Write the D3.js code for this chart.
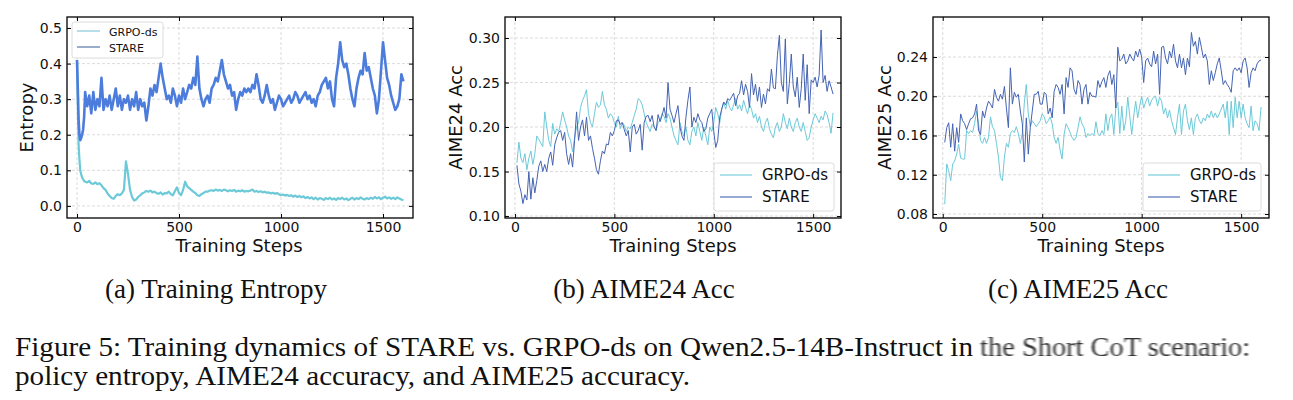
<!DOCTYPE html>
<html><head><meta charset="utf-8">
<script src="https://cdn.jsdelivr.net/npm/d3@7"></script>
<style>body{margin:0;background:#fff} svg{display:block}</style>
</head><body><svg id="c" width="1293" height="400"></svg>
<script>
// ---------------- DATA ----------------
const seriesNames = ["GRPO-ds", "STARE"];
const xTickValues = [0, 500, 1000, 1500];
const entropyTicks = [0.0, 0.1, 0.2, 0.3, 0.4, 0.5];
const aime24Ticks = [0.10, 0.15, 0.20, 0.25, 0.30];
const aime25Ticks = [0.08, 0.12, 0.16, 0.20, 0.24];

const entropySteps = [0, 4, 8, 12, 16, 20, 25, 30, 35].concat(d3.range(40, 1601, 10));
const evalSteps = d3.range(10, 1601, 10);

const entropyGRPO = [
  0.41, 0.28, 0.17, 0.13, 0.10, 0.09, 0.08, 0.075, 0.07,
  0.068, 0.066, 0.070, 0.063, 0.062, 0.066, 0.061, 0.064, 0.058, 0.050,
  0.045, 0.035, 0.028, 0.022, 0.020, 0.028, 0.033, 0.030, 0.035, 0.045,
  0.125, 0.090, 0.045, 0.025, 0.015, 0.018, 0.025, 0.030, 0.035, 0.038,
  0.042, 0.040, 0.043, 0.038, 0.040, 0.036, 0.034, 0.038, 0.032, 0.036,
  0.035, 0.040, 0.033, 0.030, 0.042, 0.052, 0.036, 0.030, 0.045, 0.068,
  0.055, 0.050, 0.045, 0.040, 0.036, 0.030, 0.028, 0.033, 0.036, 0.040,
  0.040, 0.043, 0.044, 0.042, 0.046, 0.043, 0.045, 0.042, 0.046, 0.044,
  0.041, 0.044, 0.042, 0.045, 0.040, 0.043, 0.041, 0.044, 0.040, 0.042,
  0.041, 0.043, 0.046, 0.040, 0.042, 0.039, 0.041, 0.038, 0.040, 0.037,
  0.038, 0.035, 0.037, 0.034, 0.036, 0.033, 0.030, 0.032, 0.029, 0.031,
  0.028, 0.030, 0.026, 0.029, 0.025, 0.028, 0.024, 0.027, 0.022, 0.025,
  0.021, 0.024, 0.019, 0.023, 0.018, 0.022, 0.020, 0.017, 0.022, 0.019,
  0.023, 0.018, 0.021, 0.017, 0.022, 0.019, 0.023, 0.018, 0.021, 0.016,
  0.020, 0.023, 0.018, 0.022, 0.019, 0.024, 0.020, 0.018, 0.022, 0.019,
  0.023, 0.020, 0.025, 0.021, 0.024, 0.019, 0.023, 0.026, 0.021, 0.024,
  0.020, 0.023, 0.019, 0.024, 0.021, 0.018, 0.016
];
const entropySTARE = [
  0.41, 0.33, 0.24, 0.20, 0.185, 0.19, 0.20, 0.215, 0.25,
  0.32, 0.28, 0.31, 0.26, 0.32, 0.27, 0.30, 0.28, 0.36, 0.27,
  0.30, 0.28, 0.31, 0.27, 0.30, 0.33, 0.28, 0.31, 0.27, 0.30,
  0.29, 0.31, 0.27, 0.30, 0.28, 0.32, 0.27, 0.30, 0.28, 0.29,
  0.24, 0.28, 0.33, 0.31, 0.34, 0.32, 0.36, 0.40, 0.36, 0.33,
  0.30, 0.31, 0.29, 0.33, 0.31, 0.28, 0.31, 0.29, 0.33, 0.30,
  0.32, 0.34, 0.33, 0.36, 0.34, 0.42, 0.33, 0.30, 0.28, 0.30,
  0.31, 0.29, 0.33, 0.34, 0.36, 0.35, 0.38, 0.41, 0.37, 0.35,
  0.33, 0.34, 0.31, 0.32, 0.27, 0.30, 0.32, 0.31, 0.33, 0.32,
  0.33, 0.32, 0.34, 0.33, 0.37, 0.34, 0.30, 0.29, 0.31, 0.34,
  0.31, 0.29, 0.30, 0.27, 0.29, 0.31, 0.30, 0.28, 0.29, 0.30,
  0.31, 0.29, 0.30, 0.32, 0.31, 0.29, 0.30, 0.31, 0.32, 0.30,
  0.31, 0.29, 0.30, 0.28, 0.31, 0.32, 0.34, 0.35, 0.36, 0.33,
  0.35, 0.30, 0.28, 0.36, 0.40, 0.46, 0.41, 0.39, 0.40, 0.37,
  0.33, 0.30, 0.28, 0.33, 0.36, 0.38, 0.37, 0.43, 0.38, 0.39,
  0.36, 0.33, 0.31, 0.26, 0.30, 0.38, 0.46, 0.41, 0.36, 0.34,
  0.31, 0.29, 0.27, 0.28, 0.30, 0.37, 0.35
];

const aime24GRPO = [
  0.160, 0.183, 0.165, 0.160, 0.170, 0.152, 0.165, 0.173, 0.158, 0.170,
  0.190, 0.186, 0.182, 0.178, 0.217, 0.200, 0.185, 0.178, 0.204, 0.192,
  0.198, 0.195, 0.205, 0.217, 0.208, 0.200, 0.190, 0.185, 0.172, 0.188,
  0.200, 0.205, 0.222, 0.230, 0.235, 0.242, 0.215, 0.205, 0.200, 0.215,
  0.228, 0.222, 0.225, 0.240, 0.225, 0.220, 0.210, 0.215, 0.212, 0.205,
  0.200, 0.212, 0.198, 0.205, 0.202, 0.195, 0.200, 0.198, 0.205, 0.213,
  0.220, 0.232, 0.230, 0.225, 0.215, 0.205, 0.200, 0.195, 0.203, 0.200,
  0.196, 0.205, 0.208, 0.215, 0.212, 0.205, 0.215, 0.210, 0.200, 0.190,
  0.185, 0.180, 0.205, 0.195, 0.190, 0.200, 0.185, 0.180, 0.195, 0.200,
  0.190, 0.205, 0.195, 0.185, 0.200, 0.190, 0.180, 0.200, 0.195, 0.205,
  0.222, 0.215, 0.205, 0.220, 0.228, 0.220, 0.230, 0.222, 0.218, 0.225,
  0.232, 0.220, 0.225, 0.218, 0.230, 0.222, 0.215, 0.225, 0.220, 0.210,
  0.215, 0.205, 0.212, 0.200, 0.195, 0.205, 0.210, 0.198, 0.192, 0.188,
  0.200, 0.205, 0.195, 0.200, 0.215, 0.205, 0.198, 0.210, 0.200, 0.195,
  0.205, 0.210, 0.200, 0.195, 0.205, 0.195, 0.185, 0.188, 0.200, 0.208,
  0.215, 0.210, 0.205, 0.212, 0.208, 0.218, 0.214, 0.205, 0.193, 0.216
];
const aime24STARE = [
  0.157, 0.136, 0.128, 0.114, 0.124, 0.118, 0.150, 0.119, 0.143, 0.126,
  0.140, 0.156, 0.162, 0.150, 0.158, 0.150, 0.165, 0.172, 0.157, 0.180,
  0.188, 0.194, 0.196, 0.185, 0.194, 0.170, 0.158, 0.170, 0.155, 0.185,
  0.217, 0.185, 0.200, 0.208, 0.190, 0.211, 0.185, 0.190, 0.176, 0.165,
  0.152, 0.147, 0.162, 0.173, 0.170, 0.181, 0.180, 0.194, 0.190, 0.196,
  0.207, 0.208, 0.203, 0.205, 0.197, 0.190, 0.196, 0.172, 0.200, 0.203,
  0.192, 0.196, 0.203, 0.174, 0.205, 0.212, 0.213, 0.206, 0.213, 0.200,
  0.196, 0.214, 0.206, 0.213, 0.222, 0.210, 0.250, 0.220, 0.213, 0.205,
  0.215, 0.224, 0.200, 0.190, 0.185, 0.211, 0.230, 0.245, 0.200, 0.211,
  0.205, 0.215, 0.208, 0.205, 0.195, 0.198, 0.210, 0.215, 0.220, 0.195,
  0.177, 0.185, 0.211, 0.220, 0.228, 0.225, 0.232, 0.230, 0.234, 0.238,
  0.224, 0.235, 0.238, 0.252, 0.236, 0.248, 0.240, 0.222, 0.260, 0.236,
  0.248, 0.229, 0.245, 0.222, 0.237, 0.226, 0.243, 0.240, 0.265, 0.244,
  0.243, 0.280, 0.303, 0.250, 0.240, 0.299, 0.226, 0.249, 0.282, 0.245,
  0.234, 0.256, 0.222, 0.243, 0.282, 0.230, 0.270, 0.215, 0.253, 0.250,
  0.256, 0.245, 0.258, 0.309, 0.250, 0.258, 0.240, 0.252, 0.245, 0.237
];

const aime25GRPO = [
  0.090, 0.131, 0.124, 0.114, 0.131, 0.134, 0.141, 0.151, 0.137, 0.136,
  0.136, 0.165, 0.162, 0.165, 0.163, 0.172, 0.185, 0.172, 0.155, 0.152,
  0.158, 0.152, 0.158, 0.179, 0.169, 0.165, 0.152, 0.138, 0.117, 0.114,
  0.138, 0.152, 0.148, 0.162, 0.165, 0.163, 0.169, 0.162, 0.152, 0.162,
  0.193, 0.212, 0.182, 0.169, 0.175, 0.172, 0.169, 0.172, 0.175, 0.182,
  0.179, 0.172, 0.175, 0.179, 0.172, 0.158, 0.152, 0.158, 0.145, 0.136,
  0.161, 0.172, 0.168, 0.163, 0.158, 0.155, 0.158, 0.168, 0.179, 0.172,
  0.168, 0.158, 0.162, 0.160, 0.162, 0.160, 0.174, 0.162, 0.160, 0.165,
  0.161, 0.182, 0.165, 0.178, 0.182, 0.161, 0.188, 0.194, 0.162, 0.190,
  0.165, 0.175, 0.199, 0.180, 0.161, 0.180, 0.195, 0.178, 0.190, 0.200,
  0.188, 0.194, 0.199, 0.190, 0.196, 0.199, 0.200, 0.190, 0.199, 0.195,
  0.182, 0.188, 0.178, 0.186, 0.175, 0.168, 0.161, 0.178, 0.192, 0.161,
  0.185, 0.192, 0.175, 0.166, 0.178, 0.161, 0.178, 0.182, 0.175, 0.172,
  0.178, 0.175, 0.182, 0.178, 0.185, 0.178, 0.183, 0.178, 0.182, 0.187,
  0.192, 0.178, 0.195, 0.161, 0.195, 0.168, 0.199, 0.178, 0.195, 0.178,
  0.192, 0.178, 0.172, 0.168, 0.190, 0.165, 0.175, 0.172, 0.165, 0.189
];
const aime25STARE = [
  0.153, 0.168, 0.173, 0.148, 0.172, 0.144, 0.168, 0.153, 0.182, 0.175,
  0.172, 0.166, 0.172, 0.177, 0.178, 0.182, 0.192, 0.165, 0.161, 0.185,
  0.178, 0.188, 0.195, 0.192, 0.188, 0.207, 0.199, 0.195, 0.202, 0.197,
  0.210, 0.188, 0.168, 0.229, 0.192, 0.204, 0.199, 0.202, 0.185, 0.172,
  0.133, 0.178, 0.141, 0.168, 0.185, 0.202, 0.202, 0.205, 0.192, 0.192,
  0.204, 0.202, 0.182, 0.188, 0.178, 0.205, 0.212, 0.209, 0.202, 0.212,
  0.182, 0.219, 0.209, 0.229, 0.226, 0.207, 0.202, 0.216, 0.212, 0.192,
  0.207, 0.212, 0.192, 0.204, 0.200, 0.200, 0.199, 0.216, 0.209, 0.215,
  0.219, 0.209, 0.221, 0.226, 0.212, 0.222, 0.188, 0.250, 0.236, 0.238,
  0.243, 0.233, 0.236, 0.243, 0.239, 0.236, 0.246, 0.240, 0.248, 0.240,
  0.214, 0.236, 0.239, 0.233, 0.230, 0.246, 0.233, 0.243, 0.202, 0.250,
  0.251, 0.239, 0.233, 0.246, 0.239, 0.253, 0.236, 0.229, 0.243, 0.229,
  0.239, 0.222, 0.239, 0.230, 0.265, 0.251, 0.256, 0.243, 0.260, 0.250,
  0.239, 0.243, 0.236, 0.212, 0.226, 0.216, 0.224, 0.233, 0.239, 0.226,
  0.212, 0.216, 0.212, 0.209, 0.204, 0.226, 0.229, 0.226, 0.229, 0.224,
  0.236, 0.239, 0.229, 0.209, 0.224, 0.229, 0.226, 0.233, 0.236, 0.237
];

const subCaptions = ["(a) Training Entropy", "(b) AIME24 Acc", "(c) AIME25 Acc"];
const captionPrefix = "Figure 5: Training dynamics of STARE vs. GRPO-ds on Qwen2.5-14B-Instruct in";
const captionSuffix = " the Short CoT scenario:";
const captionLine2 = "policy entropy, AIME24 accuracy, and AIME25 accuracy.";

// ---------------- DRAWING ----------------
const W = 1293, H = 400;
const svg = d3.select("#c");
svg.append("rect").attr("width", W).attr("height", H).attr("fill", "#fff");
const defs = svg.append("defs");
const blur = defs.append("filter").attr("id", "wm").attr("x", "-5%").attr("y", "-30%").attr("width", "110%").attr("height", "160%");
blur.append("feGaussianBlur").attr("stdDeviation", "1.3 0.2");

const SANS = "DejaVu Sans";
const C_GRPO = "#6cc9d8";
const C_STARE1 = "#4d7ddc";
const C_STARE = "#4463b3";

function drawPanel(p, idx) {
  const x = d3.scaleLinear().domain(p.xDomain).range([p.left, p.right]);
  const y = d3.scaleLinear().domain(p.yDomain).range([p.bottom, p.top]);
  const g = svg.append("g");
  const cid = "clip" + idx;
  defs.append("clipPath").attr("id", cid).append("rect")
    .attr("x", p.left).attr("y", p.top).attr("width", p.right - p.left).attr("height", p.bottom - p.top);

  // grid
  g.append("g").selectAll("line").data(xTickValues).join("line")
    .attr("x1", d => x(d)).attr("x2", d => x(d)).attr("y1", p.top).attr("y2", p.bottom)
    .attr("stroke", "#d2d2d2").attr("stroke-width", 0.8).attr("stroke-dasharray", "3,2");
  g.append("g").selectAll("line").data(p.yTicks).join("line")
    .attr("x1", p.left).attr("x2", p.right).attr("y1", d => y(d)).attr("y2", d => y(d))
    .attr("stroke", "#d2d2d2").attr("stroke-width", 0.8).attr("stroke-dasharray", "3,2");

  // series
  const sg = g.append("g").attr("clip-path", `url(#${cid})`);
  p.series.forEach(s => {
    const line = d3.line().x((d, i) => x(s.steps[i])).y(d => y(d));
    sg.append("path").datum(s.values).attr("d", line)
      .attr("fill", "none").attr("stroke", s.color).attr("stroke-width", s.width)
      .attr("stroke-linejoin", "round");
  });

  // axes
  const ax = [
    g.append("g").attr("transform", `translate(0,${p.bottom})`)
      .call(d3.axisBottom(x).tickValues(xTickValues).tickSize(-4).tickPadding(4).tickFormat(d3.format("d"))),
    g.append("g").attr("transform", `translate(${p.left},0)`)
      .call(d3.axisLeft(y).tickValues(p.yTicks).tickSize(-4).tickPadding(5).tickFormat(d3.format(p.fmt))),
    g.append("g").attr("transform", `translate(0,${p.top})`)
      .call(d3.axisTop(x).tickValues(xTickValues).tickSize(-4).tickFormat("")),
    g.append("g").attr("transform", `translate(${p.right},0)`)
      .call(d3.axisRight(y).tickValues(p.yTicks).tickSize(-4).tickFormat(""))
  ];
  ax.forEach(a => {
    a.select(".domain").remove();
    a.selectAll("line").attr("stroke", "#000").attr("stroke-width", 1);
    a.selectAll("text").attr("font-family", SANS).attr("font-size", 14).attr("fill", "#111");
  });

  // frame
  g.append("rect").attr("x", p.left).attr("y", p.top).attr("width", p.right - p.left).attr("height", p.bottom - p.top)
    .attr("fill", "none").attr("stroke", "#000").attr("stroke-width", 1.3);

  // axis labels
  g.append("text").attr("x", (p.left + p.right) / 2 + p.xLabelShift).attr("y", 252)
    .attr("text-anchor", "middle").attr("font-family", SANS).attr("font-size", 18).attr("fill", "#111")
    .text("Training Steps");
  g.append("text").attr("transform", `translate(${p.yLabelX},${(p.top + p.bottom) / 2}) rotate(-90)`)
    .attr("text-anchor", "middle").attr("font-family", SANS).attr("font-size", 18).attr("fill", "#111")
    .text(p.yLabel);

  // legend
  const L = p.legend;
  const lg = g.append("g");
  lg.append("rect").attr("x", L.x).attr("y", L.y).attr("width", L.w).attr("height", L.h)
    .attr("rx", 2.5).attr("fill", "#fff").attr("fill-opacity", 0.85).attr("stroke", "#dcdcdc").attr("stroke-width", 1);
  p.series.forEach((s, i) => {
    const by = L.base[i];
    lg.append("line").attr("x1", L.lx0).attr("x2", L.lx1).attr("y1", by - L.off).attr("y2", by - L.off)
      .attr("stroke", s.legendColor).attr("stroke-width", 1.1);
    lg.append("text").attr("x", L.tx).attr("y", by).attr("font-family", SANS).attr("font-size", L.fs)
      .attr("fill", "#111").text(s.name);
  });
}

drawPanel({
  left: 67, right: 413, top: 17, bottom: 218,
  xDomain: [-49, 1647], yDomain: [-0.034, 0.531], yTicks: entropyTicks, fmt: ".1f",
  yLabel: "Entropy", yLabelX: 33, xLabelShift: -1,
  series: [
    { steps: entropySteps, values: entropyGRPO, color: C_GRPO, legendColor: "#7cc3d3", width: 2.2, name: seriesNames[0] },
    { steps: entropySteps, values: entropySTARE, color: C_STARE1, legendColor: "#4a6aa3", width: 2.6, name: seriesNames[1] }
  ],
  legend: { x: 72, y: 22, w: 91, h: 36, base: [36, 52], off: 5, lx0: 77, lx1: 100, tx: 109, fs: 11 }
}, 0);

drawPanel({
  left: 505, right: 841, top: 17, bottom: 218,
  xDomain: [-50, 1640], yDomain: [0.0978, 0.3236], yTicks: aime24Ticks, fmt: ".2f",
  yLabel: "AIME24 Acc", yLabelX: 462, xLabelShift: 0,
  series: [
    { steps: evalSteps, values: aime24GRPO, color: C_GRPO, legendColor: C_GRPO, width: 1.0, name: seriesNames[0] },
    { steps: evalSteps, values: aime24STARE, color: C_STARE, legendColor: C_STARE, width: 1.0, name: seriesNames[1] }
  ],
  legend: { x: 714, y: 163, w: 120, h: 48, base: [180, 202], off: 5, lx0: 720, lx1: 752, tx: 762, fs: 15 }
}, 1);

drawPanel({
  left: 933, right: 1269, top: 17, bottom: 218,
  xDomain: [-49, 1640], yDomain: [0.0759, 0.2808], yTicks: aime25Ticks, fmt: ".2f",
  yLabel: "AIME25 Acc", yLabelX: 891, xLabelShift: 0,
  series: [
    { steps: evalSteps, values: aime25GRPO, color: C_GRPO, legendColor: C_GRPO, width: 1.0, name: seriesNames[0] },
    { steps: evalSteps, values: aime25STARE, color: C_STARE, legendColor: C_STARE, width: 1.0, name: seriesNames[1] }
  ],
  legend: { x: 1143, y: 163, w: 118, h: 48, base: [180, 202], off: 5, lx0: 1148, lx1: 1180, tx: 1190, fs: 15 }
}, 2);

// ---------------- CAPTIONS ----------------
const SERIF = "Liberation Serif";
const CAP_FS = 27;
function natural(t) {
  const n = svg.append("text").attr("font-family", SERIF).attr("font-size", CAP_FS).text(t);
  const w = n.node().getComputedTextLength();
  n.remove();
  return w;
}
const subCenters = [216, 644, 1078];
const subScale = 222 / natural(subCaptions[0]);
subCaptions.forEach((t, i) => {
  svg.append("text").attr("x", subCenters[i]).attr("y", 298).attr("text-anchor", "middle")
    .attr("font-family", SERIF).attr("font-size", CAP_FS).attr("fill", "#111")
    .attr("textLength", natural(t) * subScale).attr("lengthAdjust", "spacingAndGlyphs").text(t);
});

const capScale = 958 / natural(captionPrefix);
const prefW = natural(captionPrefix) * capScale;
svg.append("text").attr("x", 15).attr("y", 356).attr("font-family", SERIF).attr("font-size", CAP_FS)
  .attr("fill", "#111").attr("textLength", prefW).attr("lengthAdjust", "spacingAndGlyphs").text(captionPrefix);
svg.append("text").attr("x", 15 + prefW).attr("y", 356).attr("font-family", SERIF).attr("font-size", CAP_FS)
  .attr("fill", "#1a1a1a").attr("filter", "url(#wm)").attr("opacity", 0.9)
  .attr("textLength", natural(captionSuffix) * capScale).attr("lengthAdjust", "spacingAndGlyphs")
  .style("white-space", "pre").text(captionSuffix);
svg.append("text").attr("x", 15).attr("y", 385).attr("font-family", SERIF).attr("font-size", CAP_FS)
  .attr("fill", "#111").attr("textLength", natural(captionLine2) * capScale).attr("lengthAdjust", "spacingAndGlyphs")
  .text(captionLine2);
</script>
</body></html>
